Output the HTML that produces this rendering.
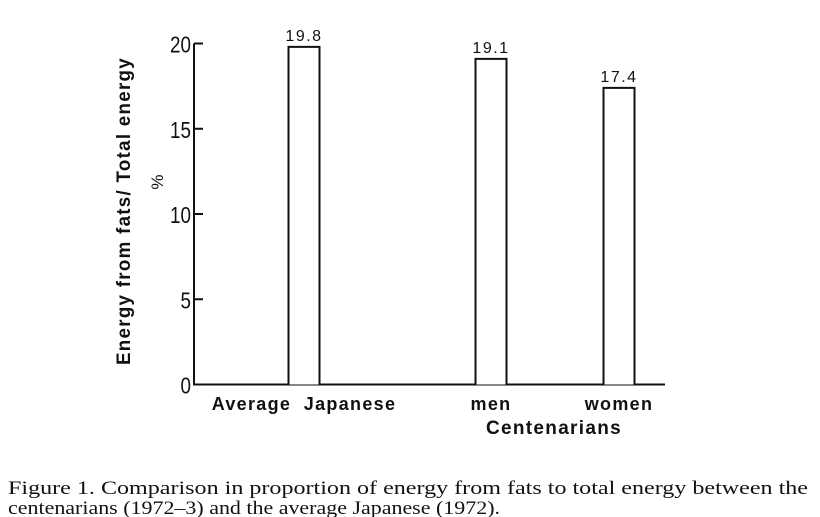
<!DOCTYPE html>
<html><head><meta charset="utf-8"><style>
html,body{margin:0;padding:0;background:#fff;}
svg{display:block;}
text{fill:#111;}
.tick{font-family:"Liberation Sans Narrow","Liberation Sans",sans-serif;font-size:23px;}
.val{font-family:"Liberation Sans Narrow","Liberation Sans",sans-serif;font-size:16px;letter-spacing:1.5px;}
.lab{font-family:"Liberation Sans",sans-serif;font-weight:bold;font-size:18px;letter-spacing:1.3px;}
.cap{font-family:"Liberation Serif",serif;font-size:19px;}
</style></head><body>
<svg id="chart" width="820" height="517" viewBox="0 0 820 517" xmlns="http://www.w3.org/2000/svg">
<g id="axes"></g>
<g id="bars"></g>
<text class="lab" transform="translate(130,211) rotate(-90)" text-anchor="middle" textLength="308" lengthAdjust="spacingAndGlyphs" style="font-size:19px">Energy from fats/ Total energy</text>
<text class="tick" transform="translate(163,182) rotate(-90)" text-anchor="middle" style="font-size:17px">%</text>
<text class="lab" x="554" y="434" text-anchor="middle" style="font-size:19px">Centenarians</text>
<text class="cap" x="8" y="494" textLength="800" lengthAdjust="spacingAndGlyphs">Figure 1.  Comparison in proportion of energy from fats to total energy between the</text>
<text class="cap" x="8" y="514" textLength="492" lengthAdjust="spacingAndGlyphs">centenarians (1972–3) and the average Japanese (1972).</text>
</svg>
<script>
const categories = ["Average  Japanese", "men", "women"];
const values = [19.8, 19.1, 17.4];
const valueLabels = ["19.8", "19.1", "17.4"];
const yTicks = [0, 5, 10, 15, 20];
const barCenters = [304, 491, 619];

const NS = "http://www.w3.org/2000/svg";
const x0 = 194, xEnd = 665, yBase = 384.5, yTop = 43.5, yMax = 20;
const yScale = v => yBase - (v / yMax) * (yBase - yTop);
const barW = 31;
function mk(tag, attrs, parent, txt) {
  const e = document.createElementNS(NS, tag);
  for (const k in attrs) e.setAttribute(k, attrs[k]);
  if (txt !== undefined) e.textContent = txt;
  parent.appendChild(e);
  return e;
}
const axes = document.getElementById("axes");
const bars = document.getElementById("bars");
let el = mk("line", {x1: x0, y1: yTop, x2: x0, y2: yBase, stroke: "#111", "stroke-width": 2}, axes);


el = mk("line", {x1: x0 - 1, y1: yBase, x2: xEnd, y2: yBase, stroke: "#111", "stroke-width": 2}, axes);


yTicks.forEach(t => {
  const y = yScale(t);
  const tk = mk("line", {x1: x0, y1: y, x2: x0 + 9, y2: y, stroke: "#111", "stroke-width": 2}, axes);
  
  
  const tl = mk("text", {x: 0, y: 0, "text-anchor": "end", class: "tick", transform: `translate(${x0 - 3},${y + 9}) scale(0.82,1)`}, axes, String(t));
  
  
});
categories.forEach((c, i) => {
  const cx = barCenters[i], y = yScale(values[i]);
  const r = mk("path", {d: `M${cx - barW/2},${yBase} V${y} H${cx + barW/2} V${yBase}`, fill: "#fff", stroke: "#111", "stroke-width": 2}, bars);
  
  
  const v = mk("text", {x: cx, y: y - 6, "text-anchor": "middle", class: "val"}, bars, valueLabels[i]);
  
  
  const l = mk("text", {x: cx, y: 410, "text-anchor": "middle", class: "lab"}, bars, c);
  
  
  l.setAttribute('xml:space', 'preserve');
  l.style.whiteSpace = 'pre';
});
</script>
</body></html>
